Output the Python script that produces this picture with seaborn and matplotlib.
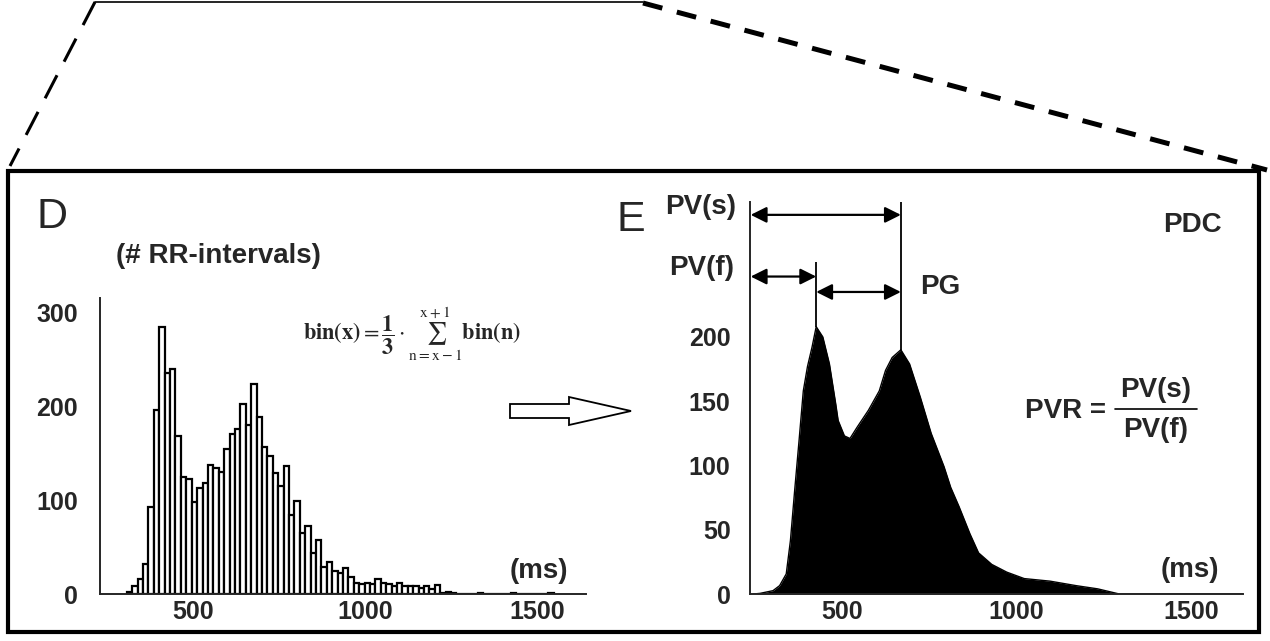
import numpy as np
import pandas as pd
import matplotlib
matplotlib.use('Agg')
import matplotlib.pyplot as plt
from matplotlib.patches import Polygon, Rectangle
import seaborn as sns

# panel D: RR-interval histogram, ~16 ms bins starting at 308 ms
rr_bin_start = 308
rr_bin_width = 15.7
rr_counts = [2, 9, 16, 32, 93, 196, 284, 235, 239, 168,
             125, 122, 98, 113, 118, 137, 134, 130, 154, 170,
             176, 202, 180, 224, 188, 156, 147, 129, 115, 136,
             84, 99, 65, 72, 44, 57, 29, 34, 25, 22,
             28, 18, 12, 11, 12, 11, 16, 12, 11, 9,
             12, 9, 8, 8, 6, 9, 5, 10, 1, 2,
             1, 0, 0, 0, 0, 1, 0, 0, 0, 0,
             0, 1, 0, 0, 0, 0, 0, 0, 1]

# panel E: smoothed distribution (PDC)
pdc_ms = [245, 264, 301, 320, 339, 351, 363, 376, 388, 400, 413, 425, 444, 463,
          481, 488, 506, 522, 543, 575, 606, 624, 643, 668, 693, 724, 755, 792,
          811, 835, 866, 891, 929, 972, 1022, 1096, 1171, 1233, 1295, 1650]
pdc_val = [0, 0.5, 2.6, 6.5, 15.6, 41.5, 80, 120, 158, 177, 192, 208, 200, 179,
           148, 135, 123, 121, 130, 143, 158, 174, 184, 190, 179, 153, 125, 99,
           83, 68, 47, 32, 23, 17, 12, 10, 6.5, 4, 0, 0]

pv_f = (425, 208)   # fast peak
pv_s = (668, 190)   # slow peak
x_ticks = [500, 1000, 1500]
d_yticks = [0, 100, 200, 300]
e_yticks = [0, 50, 100, 150, 200]

sns.set_style('white')
plt.rcParams['font.family'] = ['Liberation Sans', 'DejaVu Sans']
plt.rcParams['mathtext.fontset'] = 'stix'

W, H = 1270, 641
fig = plt.figure(figsize=(W / 100, H / 100), dpi=100)

def fx(px):
    return px / W

def fy(py):
    return 1 - py / H

# background layer in pixel coordinates: frame, zoom lines, arrow
bg = fig.add_axes([0, 0, 1, 1], zorder=0)
bg.set_xlim(0, W)
bg.set_ylim(H, 0)
bg.axis('off')
bg.add_patch(Rectangle((8, 171), 1251, 461, fill=False, lw=3, ec='black'))
bg.plot([95, 643], [2, 2], color='black', lw=1.2)
bg.plot([95, 10], [2, 166], color='black', lw=2.2, dashes=(8.5, 5))
bg.plot([643, 1267], [3, 170], color='black', lw=3.6, dashes=(4, 3))
bg.add_patch(Polygon([(510, 404), (569, 404), (569, 397), (631, 411),
                      (569, 425), (569, 418), (510, 418)],
                     closed=True, fc='white', ec='black', lw=1.3))

tick_font = dict(fontsize=18, fontweight='bold')

# ---- panel D
ax_d = fig.add_axes([fx(100), fy(594), fx(586) - fx(100), fy(298) - fy(594)], zorder=1)
ax_d.patch.set_alpha(0)
n_bins = len(rr_counts)
hist_df = pd.DataFrame({
    'ms': rr_bin_start + rr_bin_width * (np.arange(n_bins) + 0.5),
    'count': rr_counts,
})
sns.histplot(data=hist_df, x='ms', weights='count', binwidth=rr_bin_width,
             binrange=(rr_bin_start, rr_bin_start + rr_bin_width * n_bins),
             color='white', edgecolor='black', linewidth=1.6, alpha=1, ax=ax_d)
ax_d.set_xlim(230, 1642)
ax_d.set_ylim(0, 315)
ax_d.set_xticks(x_ticks)
ax_d.set_yticks(d_yticks)
ax_d.set_xticklabels([str(t) for t in x_ticks], **tick_font)
ax_d.set_yticklabels([str(t) for t in d_yticks], **tick_font)
ax_d.tick_params(axis='y', direction='in', length=5, width=1.2, pad=16)
ax_d.tick_params(axis='x', length=0, pad=4)
ax_d.set_xlabel('')
ax_d.set_ylabel('')
sns.despine(ax=ax_d)
for s in ['left', 'bottom']:
    ax_d.spines[s].set_linewidth(1.4)

# ---- panel E
ax_e = fig.add_axes([fx(750), fy(594), fx(1243) - fx(750), fy(202) - fy(594)], zorder=1)
ax_e.patch.set_alpha(0)
ax_e.fill_between(pdc_ms, pdc_val, color='black', lw=0)
sns.lineplot(x=pdc_ms, y=pdc_val, color='black', lw=1, ax=ax_e)
ax_e.set_xlim(235, 1650)
ax_e.set_ylim(0, 305)
ax_e.set_xticks(x_ticks)
ax_e.set_yticks(e_yticks)
ax_e.set_xticklabels([str(t) for t in x_ticks], **tick_font)
ax_e.set_yticklabels([str(t) for t in e_yticks], **tick_font)
ax_e.tick_params(axis='y', length=0, pad=14)
ax_e.tick_params(axis='x', length=0, pad=4)
sns.despine(ax=ax_e)
for s in ['left', 'bottom']:
    ax_e.spines[s].set_linewidth(1.4)

ax_e.vlines(pv_f[0], pv_f[1], 258, color='black', lw=1.3)
ax_e.vlines(pv_s[0], pv_s[1], 305, color='black', lw=1.3)
arrow = dict(arrowstyle='<|-|>', color='black', lw=1.6, mutation_scale=24,
             shrinkA=0, shrinkB=0)
ax_e.annotate('', xy=(pv_s[0], 295), xytext=(237, 295), arrowprops=arrow)
ax_e.annotate('', xy=(pv_f[0], 247), xytext=(237, 247), arrowprops=arrow)
ax_e.annotate('', xy=(pv_s[0], 235), xytext=(pv_f[0], 235), arrowprops=arrow)

# ---- texts
lbl = dict(fontsize=20, fontweight='bold', ha='center', va='center')
fig.text(fx(52), fy(217), 'D', fontsize=31, ha='center', va='center')
fig.text(fx(631), fy(220), 'E', fontsize=31, ha='center', va='center')
fig.text(fx(218), fy(256), '(# RR-intervals)', **lbl)
fig.text(fx(539), fy(571), '(ms)', **lbl)
fig.text(fx(1190), fy(570), '(ms)', **lbl)
fig.text(fx(701), fy(207), 'PV(s)', **lbl)
fig.text(fx(702), fy(268), 'PV(f)', **lbl)
fig.text(fx(940), fy(287), 'PG', **lbl)
fig.text(fx(1192), fy(225), 'PDC', **lbl)
fig.text(fx(1106), fy(411), 'PVR =', fontsize=20, fontweight='bold', ha='right', va='center')
fig.text(fx(1156), fy(390), 'PV(s)', **lbl)
fig.text(fx(1156), fy(430), 'PV(f)', **lbl)
bg.plot([1115, 1197], [409, 409], color='black', lw=1.2)
fig.text(fx(412), fy(334),
         r'$\mathbf{bin(x)} = \dfrac{\mathbf{1}}{\mathbf{3}}\cdot\sum_{\mathrm{n=x-1}}^{\mathrm{x+1}}\mathbf{bin(n)}$',
         fontsize=16, ha='center', va='center')

fig.savefig('out.png', dpi=100)
